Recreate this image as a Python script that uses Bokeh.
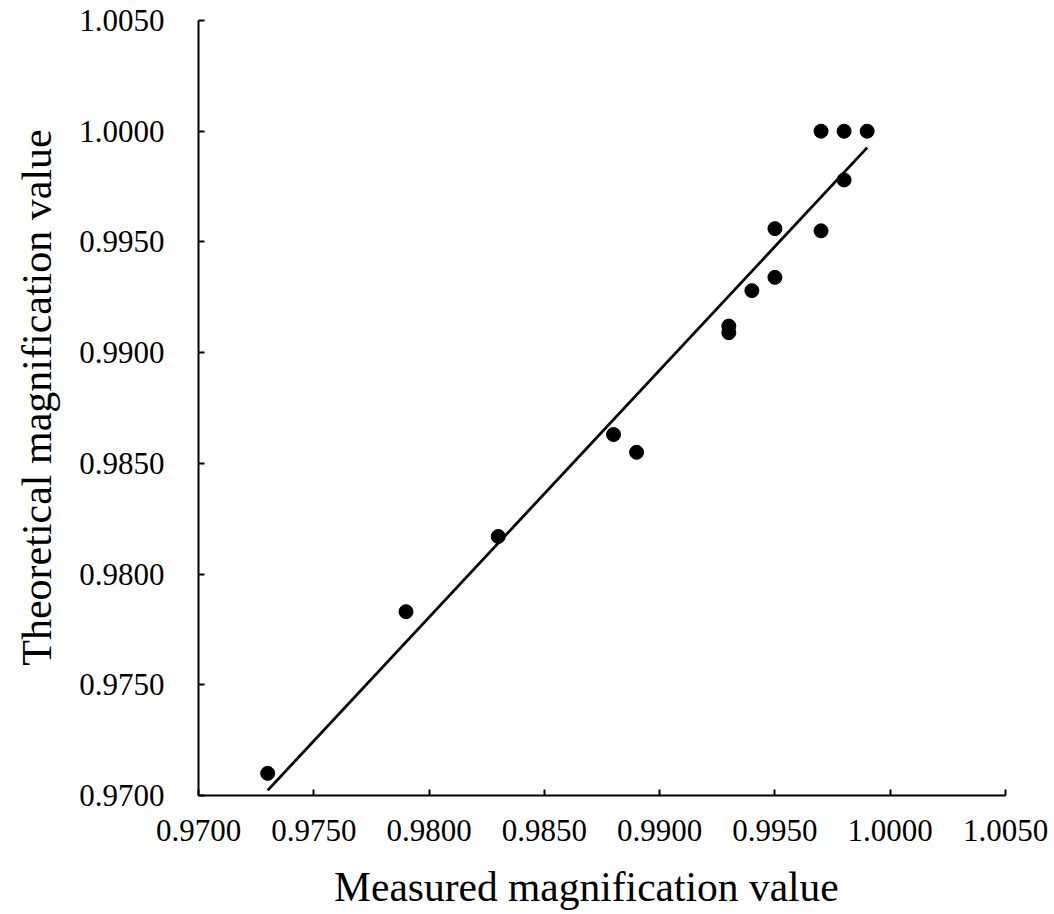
from bokeh.plotting import figure
from bokeh.models import Range1d, FixedTicker, PrintfTickFormatter
from bokeh.embed import file_html
from bokeh.resources import INLINE

# Data
measured = [0.9730, 0.9790, 0.9830, 0.9880, 0.9890, 0.9930, 0.9930, 0.9940,
            0.9950, 0.9950, 0.9970, 0.9980, 0.9970, 0.9980, 0.9990]
theoretical = [0.9710, 0.9783, 0.9817, 0.9863, 0.9855, 0.9912, 0.9909, 0.9928,
               0.9934, 0.9956, 0.9955, 0.9978, 1.0000, 1.0000, 1.0000]
# Linear trend line as drawn in the reference (end values)
trend_x = [0.9730, 0.9990]
trend_y = [0.97023, 0.99926]
tick_values = [0.9700, 0.9750, 0.9800, 0.9850, 0.9900, 0.9950, 1.0000, 1.0050]

FONT = "Liberation Serif"
NB = "\u00a0"

p = figure(width=1050, height=912, output_backend="svg", toolbar_location=None,
           x_range=Range1d(0.9700, 1.0050), y_range=Range1d(0.9700, 1.0050),
           min_border_left=198, min_border_top=20, min_border_right=45,
           min_border_bottom=10)
p.outline_line_color = None
p.grid.visible = False
p.background_fill_color = "white"
p.border_fill_color = "white"

p.line(trend_x, trend_y, line_color="black", line_width=2.8)
p.scatter(measured, theoretical, size=14, color="black")

for ax in (p.xaxis[0], p.yaxis[0]):
    ax.ticker = FixedTicker(ticks=tick_values)
    ax.formatter = PrintfTickFormatter(format="%.4f")
    ax.major_tick_in = 6
    ax.major_tick_out = 0
    ax.minor_tick_line_color = None
    ax.axis_line_width = 2
    ax.axis_line_color = "black"
    ax.major_tick_line_width = 2
    ax.major_tick_line_color = "black"
    ax.major_label_text_font = FONT
    ax.major_label_text_font_size = "31px"
    ax.major_label_text_color = "black"
    ax.axis_label_text_font = FONT
    ax.axis_label_text_font_style = "normal"
    ax.axis_label_text_color = "black"

p.xaxis.axis_label_text_font_size = "41.5px"
p.yaxis.axis_label_text_font_size = "42px"
p.xaxis.axis_label = "Measured magnification value" + NB * 3
p.yaxis.axis_label = NB * 2 + "Theoretical magnification value"
p.xaxis.major_label_standoff = 24
p.yaxis.major_label_standoff = 34
p.xaxis.axis_label_standoff = 20
p.yaxis.axis_label_standoff = 16

open("out.html", "w").write(file_html(p, INLINE))
